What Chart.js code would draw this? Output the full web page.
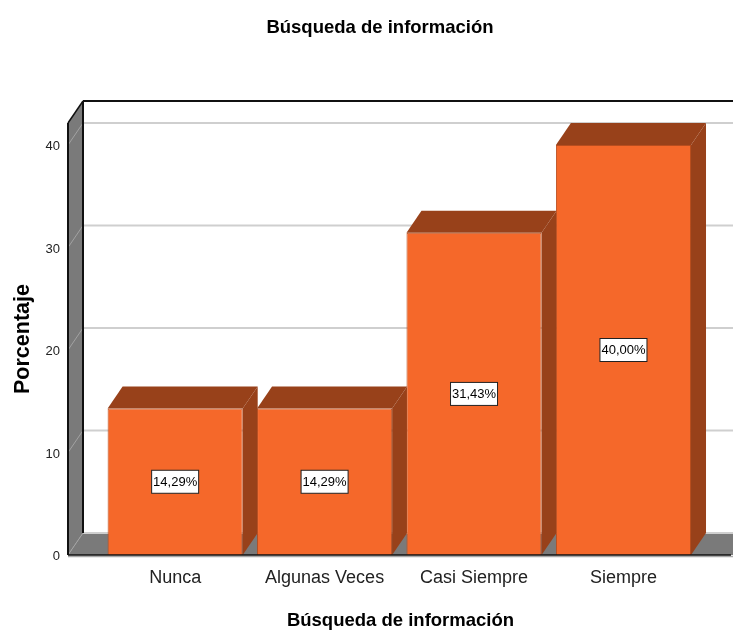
<!DOCTYPE html>
<html>
<head>
<meta charset="utf-8">
<style>html,body{margin:0;padding:0;background:#fff}#w{width:733px;height:632px}</style>
<script src="https://cdn.jsdelivr.net/npm/chart.js@4/dist/chart.umd.min.js"></script>
</head>
<body>
<div id="w"><canvas id="c"></canvas></div>
<script>
const categories = ["Nunca", "Algunas Veces", "Casi Siempre", "Siempre"];
const values = [14.29, 14.29, 31.43, 40.0];
const valueLabels = ["14,29%", "14,29%", "31,43%", "40,00%"];
const yTicks = [0, 10, 20, 30, 40];
const chartTitle = "Búsqueda de información";
const xTitle = "Búsqueda de información";
const yTitle = "Porcentaje";

const DX = 15, DY = 22;
const FONT = '"Liberation Sans", Arial, sans-serif';
const poly = (ctx, pts, fill, stroke, lw) => {
  ctx.beginPath();
  pts.forEach((p, i) => i ? ctx.lineTo(p[0], p[1]) : ctx.moveTo(p[0], p[1]));
  ctx.closePath();
  if (fill) { ctx.fillStyle = fill; ctx.fill(); }
  if (stroke) { ctx.strokeStyle = stroke; ctx.lineWidth = lw || 1; ctx.stroke(); }
};
const seg = (ctx, a, b, c, lw) => {
  ctx.beginPath(); ctx.moveTo(a[0], a[1]); ctx.lineTo(b[0], b[1]);
  ctx.strokeStyle = c; ctx.lineWidth = lw; ctx.stroke();
};

const box3d = {
  id: "box3d",
  afterLayout(chart) { chart.titleBlock.left = 27; },
  beforeDraw(chart) {
    const s = chart.scales.y;
    s.getLabelItems(chart.chartArea).forEach(it => { it.options.translation[1] += 1.5; });
  },
  beforeDatasetsDraw(chart) {
    const { ctx, chartArea: a, scales: { y } } = chart;
    const b = y.getPixelForValue(0), l = a.left, r = a.right, t = a.top;
    ctx.save();
    // left wall and floor
    poly(ctx, [[l, t], [l + DX, t - DY], [l + DX, b - DY], [l, b]], "#7a7a7a");
    poly(ctx, [[l, b], [l + DX, b - DY], [r + DX, b - DY], [r, b]], "#7a7a7a");
    // grid lines on the back wall and their slant on the left wall
    yTicks.forEach(v => {
      const p = y.getPixelForValue(v);
      seg(ctx, [l + DX, p - DY], [r + DX, p - DY], "#cfcfcf", 2);
      seg(ctx, [l, p], [l + DX, p - DY], "#a2a2a2", 1);
    });
    // frame
    seg(ctx, [l + DX, t - DY], [r + DX, t - DY], "#111", 2);
    seg(ctx, [l + DX, t - DY], [l + DX, b - DY], "#111", 2);
    seg(ctx, [l, t], [l + DX, t - DY], "#111", 1.5);
    seg(ctx, [l, t], [l, b], "#111", 2);
    // side and top faces of the bars
    chart.getDatasetMeta(0).data.forEach(el => {
      const x0 = el.x - el.width / 2, x1 = el.x + el.width / 2;
      poly(ctx, [[x1, el.y], [x1 + DX, el.y - DY], [x1 + DX, el.base - DY], [x1, el.base]], "#98411a");
      poly(ctx, [[x0, el.y], [x0 + DX, el.y - DY], [x1 + DX, el.y - DY], [x1, el.y]], "#98411a");
    });
    ctx.restore();
  },
  afterDatasetsDraw(chart) {
    const { ctx, chartArea: a, scales: { y } } = chart;
    const b = y.getPixelForValue(0);
    ctx.save();
    // base line
    seg(ctx, [a.left, b + 1.5], [a.right, b + 1.5], "#a8a8a8", 1.5);
    seg(ctx, [a.left, b], [a.right - 2, b], "#111", 1.5);
    // value boxes
    ctx.font = "13px " + FONT;
    ctx.textAlign = "center";
    ctx.textBaseline = "middle";
    chart.getDatasetMeta(0).data.forEach((el, i) => {
      const my = (el.y + el.base) / 2;
      const w = 47, h = 23;
      ctx.fillStyle = "#fff";
      ctx.fillRect(el.x - w / 2, my - h / 2, w, h);
      ctx.strokeStyle = "#222"; ctx.lineWidth = 1;
      ctx.strokeRect(el.x - w / 2, my - h / 2, w, h);
      ctx.fillStyle = "#000";
      ctx.fillText(valueLabels[i], el.x, my + 0.5);
    });
    ctx.restore();
  }
};

new Chart(document.getElementById("c"), {
  type: "bar",
  data: {
    datasets: [{
      data: values.map((v, i) => ({ x: i, y: v })),
      backgroundColor: "#f5682a",
      borderColor: "#b84d1e",
      borderWidth: 1,
      barPercentage: 0.904,
      categoryPercentage: 1
    }]
  },
  plugins: [box3d],
  options: {
    responsive: true,
    maintainAspectRatio: false,
    animation: false,
    layout: { padding: 0 },
    plugins: {
      legend: { display: false },
      tooltip: { enabled: false },
      title: {
        display: true,
        text: chartTitle,
        color: "#000",
        font: { family: FONT, size: 18.5, weight: "bold", lineHeight: 1.2 },
        padding: { top: 16.5, bottom: 84.3 }
      }
    },
    scales: {
      x: {
        type: "linear",
        offset: false,
        min: -0.717,
        max: 3.733,
        afterBuildTicks: s => { s.ticks = categories.map((_, i) => ({ value: i })); },
        afterFit: s => { s.height = 77; },
        grid: { display: false, drawTicks: false },
        border: { display: false },
        ticks: {
          autoSkip: false, maxRotation: 0, padding: 12, color: "#222",
          font: { family: FONT, size: 18 },
          callback: v => categories[v]
        },
        title: {
          display: true, text: xTitle, color: "#000",
          font: { family: FONT, size: 18.5, weight: "bold", lineHeight: 1.2 },
          padding: { top: 0, bottom: 0 }
        }
      },
      y: {
        min: 0,
        max: 42.146,
        afterBuildTicks: s => { s.ticks = yTicks.map(v => ({ value: v })); },
        afterFit: s => { s.width = 68; },
        grid: { display: false, drawTicks: false },
        border: { display: false },
        ticks: { padding: 8, color: "#222", font: { family: FONT, size: 13 } },
        title: {
          display: true, text: yTitle, color: "#000",
          font: { family: FONT, size: 21.5, weight: "bold", lineHeight: 1.2 },
          padding: { top: 10, bottom: 0 }
        }
      }
    }
  }
});
</script>
</body>
</html>
